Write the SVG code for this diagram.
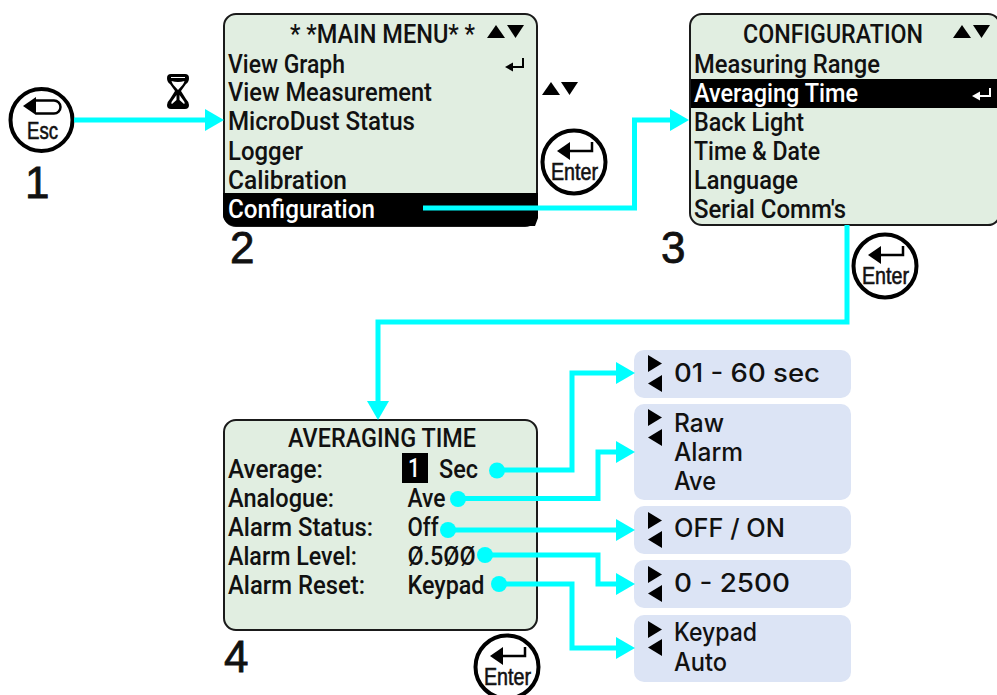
<svg xmlns="http://www.w3.org/2000/svg" width="997" height="695" viewBox="0 0 997 695">
<style>
text{font-family:"Roboto","Liberation Sans",sans-serif;fill:#111}
.m{font-size:25px;font-weight:500}
.w{fill:#fff}
.o{font-family:"Inter","Liberation Sans",sans-serif;font-size:25px;font-weight:500}
.n{font-family:"Liberation Sans",Arial,sans-serif;font-size:44px;fill:#111;stroke:#111;stroke-width:.8}
.k{font-family:"Liberation Sans",Arial,sans-serif;font-size:24px;fill:#111;stroke:#111;stroke-width:.6}
.p{fill:#e1eee1;stroke:#1a1a1a;stroke-width:2}
.q{fill:#dce4f5}
.b{fill:#000}
.r{fill:#fff;stroke:#000;stroke-width:4}
.s{fill:none;stroke:#000;stroke-width:2.5}
.c{fill:none;stroke:#00ffff;stroke-width:5}
.d{fill:#00ffff}
</style>
<defs>
<marker id="a" markerUnits="userSpaceOnUse" markerWidth="19" markerHeight="22" refX="0" refY="11" orient="auto"><path d="M0 0L19 11L0 22Z" fill="#00ffff"/></marker>
<path id="up" d="M0 13L9 0L18 13Z"/>
<path id="dn" d="M0 0L17 0L8.500 13Z"/>
<path id="rt" d="M0 0L14 8.500L0 17Z"/>
<path id="lt" d="M14 0L0 8.500L14 17Z"/>
</defs>

<g id="esc-key">
<circle class="r" cx="41.500" cy="120" r="31"/>
<path class="b" d="M23 106L36 97V115Z"/>
<path class="s" d="M36 100.500H54a6.500 6.500 0 0 1 0 13H36"/>
<text class="k" x="27" y="138.500" textLength="31" lengthAdjust="spacingAndGlyphs">Esc</text>
</g>
<text id="label-1" class="n" x="25" y="198">1</text>
<g id="hourglass">
<path class="b" d="M171 74H185Q189 74 189 78Q189 82 186 84L181 91L186 99Q189 102 189 105Q189 109 185 109H171Q167 109 167 105Q167 102 170 99L175 91L170 84Q167 82 167 78Q167 74 171 74Z"/>
<path fill="#fff" d="M171.500 81Q178 83 184.500 81Q184 83 182.500 85L178 90L173.500 85Q172 83 171.500 81ZM171 77H185V78H171ZM176.500 95L171.500 102Q171 104 172 104L176.500 100ZM179.500 95L184.500 102Q185 104 184 104L179.500 100Z"/>
</g>

<g id="panel-main-menu">
<rect class="p" x="224" y="14" width="313" height="212" rx="12"/>
<path class="b" d="M223 193H538V218L535 226H236A12 12 0 0 1 223 214Z"/>
<text class="m" x="290" y="43" textLength="185" lengthAdjust="spacingAndGlyphs">* *MAIN MENU* *</text>
<use href="#up" x="487" y="25"/><use href="#dn" x="507" y="25"/>
<path class="b" d="M505 67L513 62.500V71.500Z"/>
<path class="s" style="stroke-width:2" d="M512 67H523V58"/>
<text class="m" x="228" y="73" textLength="117" lengthAdjust="spacingAndGlyphs">View Graph</text>
<text class="m" x="228" y="101" textLength="204" lengthAdjust="spacingAndGlyphs">View Measurement</text>
<text class="m" x="228" y="130" textLength="187" lengthAdjust="spacingAndGlyphs">MicroDust Status</text>
<text class="m" x="228" y="160" textLength="75" lengthAdjust="spacingAndGlyphs">Logger</text>
<text class="m" x="228" y="189" textLength="119" lengthAdjust="spacingAndGlyphs">Calibration</text>
<text class="m w" x="228" y="218" textLength="147" lengthAdjust="spacingAndGlyphs">Configuration</text>
</g>
<text id="label-2" class="n" x="230" y="263">2</text>
<g id="main-menu-arrows"><use href="#up" x="542" y="82"/><use href="#dn" x="561" y="82"/></g>
<g id="enter-key-1" transform="translate(574 162)">
<circle class="r" r="31.500"/>
<path class="b" d="M-17 -11L-4 -20V-2Z"/>
<path class="s" d="M-4 -11H18V-20"/>
<text class="k" x="-23" y="18" textLength="47" lengthAdjust="spacingAndGlyphs">Enter</text>
</g>

<g id="panel-configuration">
<rect class="p" x="690" y="14" width="310" height="211" rx="12"/>
<rect class="b" x="691" y="79" width="306" height="29"/>
<text class="m" x="743" y="43" textLength="180" lengthAdjust="spacingAndGlyphs">CONFIGURATION</text>
<use href="#up" x="953" y="25"/><use href="#dn" x="973" y="25"/>
<text class="m" x="694" y="73" textLength="186" lengthAdjust="spacingAndGlyphs">Measuring Range</text>
<text class="m w" x="694" y="102" textLength="164" lengthAdjust="spacingAndGlyphs">Averaging Time</text>
<path fill="#fff" d="M972 96L980 91.500V100.500Z"/>
<path fill="none" stroke="#fff" stroke-width="2" d="M979 96H990V88"/>
<text class="m" x="694" y="131" textLength="110" lengthAdjust="spacingAndGlyphs">Back Light</text>
<text class="m" x="694" y="160" textLength="126" lengthAdjust="spacingAndGlyphs">Time &amp; Date</text>
<text class="m" x="694" y="189" textLength="104" lengthAdjust="spacingAndGlyphs">Language</text>
<text class="m" x="694" y="218" textLength="152" lengthAdjust="spacingAndGlyphs">Serial Comm's</text>
</g>
<text id="label-3" class="n" x="661" y="263">3</text>
<g id="enter-key-2" transform="translate(885 266)">
<circle class="r" r="31.500"/>
<path class="b" d="M-17 -11L-4 -20V-2Z"/>
<path class="s" d="M-4 -11H18V-20"/>
<text class="k" x="-23" y="18" textLength="47" lengthAdjust="spacingAndGlyphs">Enter</text>
</g>

<g id="panel-averaging-time">
<rect class="p" x="224" y="420" width="313" height="210" rx="12"/>
<text class="m" x="288" y="447" textLength="188" lengthAdjust="spacingAndGlyphs">AVERAGING TIME</text>
<text class="m" x="228" y="478" textLength="95" lengthAdjust="spacingAndGlyphs">Average:</text>
<text class="m" x="228" y="507" textLength="106" lengthAdjust="spacingAndGlyphs">Analogue:</text>
<text class="m" x="228" y="536" textLength="145" lengthAdjust="spacingAndGlyphs">Alarm Status:</text>
<text class="m" x="228" y="565" textLength="129" lengthAdjust="spacingAndGlyphs">Alarm Level:</text>
<text class="m" x="228" y="594" textLength="137" lengthAdjust="spacingAndGlyphs">Alarm Reset:</text>
<rect class="b" x="402" y="453" width="26" height="30"/>
<text class="m w" x="408" y="477" textLength="12" lengthAdjust="spacingAndGlyphs">1</text>
<text class="m" x="439" y="478" textLength="39" lengthAdjust="spacingAndGlyphs">Sec</text>
<text class="m" x="407.500" y="507" textLength="38" lengthAdjust="spacingAndGlyphs">Ave</text>
<text class="m" x="407.500" y="536" textLength="31" lengthAdjust="spacingAndGlyphs">Off</text>
<text class="m" x="407.500" y="565" textLength="68" lengthAdjust="spacingAndGlyphs">Ø.5ØØ</text>
<text class="m" x="407.500" y="594" textLength="77" lengthAdjust="spacingAndGlyphs">Keypad</text>
</g>
<text id="label-4" class="n" x="224" y="672">4</text>
<g id="enter-key-3" transform="translate(507 667)">
<circle class="r" r="31.500"/>
<path class="b" d="M-17 -11L-4 -20V-2Z"/>
<path class="s" d="M-4 -11H18V-20"/>
<text class="k" x="-23" y="18" textLength="47" lengthAdjust="spacingAndGlyphs">Enter</text>
</g>

<g id="option-seconds">
<rect class="q" x="634" y="350" width="217" height="48" rx="10"/>
<use href="#rt" x="648" y="355"/><use href="#lt" x="648" y="375"/>
<text class="o" x="674" y="382" textLength="146" lengthAdjust="spacingAndGlyphs">01 - 60 sec</text>
</g>
<g id="option-analogue">
<rect class="q" x="634" y="404" width="217" height="96" rx="10"/>
<use href="#rt" x="648" y="409"/><use href="#lt" x="648" y="429"/>
<text class="o" x="674" y="432" textLength="50" lengthAdjust="spacingAndGlyphs">Raw</text>
<text class="o" x="674" y="461" textLength="69" lengthAdjust="spacingAndGlyphs">Alarm</text>
<text class="o" x="674" y="490" textLength="42" lengthAdjust="spacingAndGlyphs">Ave</text>
</g>
<g id="option-status">
<rect class="q" x="634" y="506" width="217" height="48" rx="10"/>
<use href="#rt" x="648" y="512"/><use href="#lt" x="648" y="531"/>
<text class="o" x="674" y="537" textLength="111" lengthAdjust="spacingAndGlyphs">OFF / ON</text>
</g>
<g id="option-level">
<rect class="q" x="634" y="560" width="217" height="48" rx="10"/>
<use href="#rt" x="648" y="566"/><use href="#lt" x="648" y="585"/>
<text class="o" x="674" y="592" textLength="116" lengthAdjust="spacingAndGlyphs">0 - 2500</text>
</g>
<g id="option-reset">
<rect class="q" x="634" y="615" width="217" height="67" rx="10"/>
<use href="#rt" x="648" y="621"/><use href="#lt" x="648" y="639"/>
<text class="o" x="674" y="641" textLength="83" lengthAdjust="spacingAndGlyphs">Keypad</text>
<text class="o" x="674" y="671" textLength="53" lengthAdjust="spacingAndGlyphs">Auto</text>
</g>

<g id="connectors">
<path class="c" marker-end="url(#a)" d="M74 120H205"/>
<path class="c" marker-end="url(#a)" d="M423 208H634.500V120H670"/>
<path class="c" marker-end="url(#a)" d="M847 225V322H378V401"/>
<path class="c" marker-end="url(#a)" d="M497 470H572V373H616"/>
<path class="c" marker-end="url(#a)" d="M458 498.500H598V452H616"/>
<path class="c" marker-end="url(#a)" d="M448 530H616"/>
<path class="c" marker-end="url(#a)" d="M485 555H598V584H616"/>
<path class="c" marker-end="url(#a)" d="M499 584H572V648H616"/>
<circle class="d" cx="497" cy="470.500" r="8"/>
<circle class="d" cx="458" cy="499" r="8"/>
<circle class="d" cx="448" cy="530" r="8"/>
<circle class="d" cx="485" cy="555" r="8"/>
<circle class="d" cx="499" cy="584" r="8"/>
</g>
</svg>
